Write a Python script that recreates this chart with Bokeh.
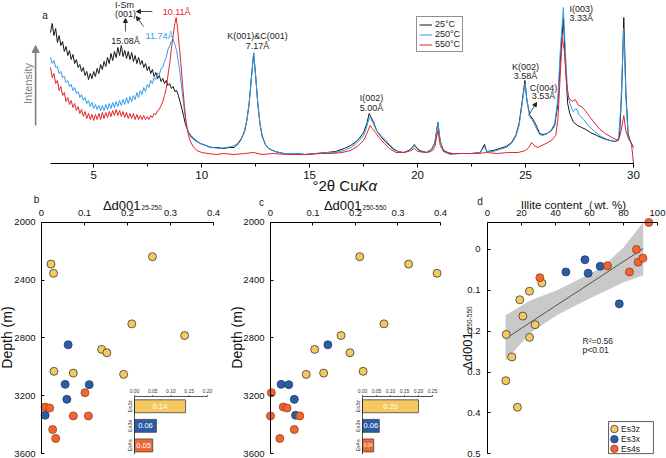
import numpy as np
from bokeh.plotting import figure
from bokeh.layouts import column, row
from bokeh.models import (Range1d, FixedTicker, Label, Arrow, NormalHead, Legend, LegendItem,
                          ColumnDataSource)
from bokeh.core.properties import value
from bokeh.embed import file_html
from bokeh.resources import INLINE

FONT = "Liberation Sans"
FONT_V = value(FONT)

# ---------------- Panel a: XRD patterns (2theta, intensity a.u.) ----------------
xrd_25 = [(3.00,131),(3.08,140),(3.16,128),(3.24,135),(3.32,121),(3.40,128),(3.48,118),(3.56,122),(3.64,112),(3.72,117),(3.80,108),(3.88,113),(3.96,104),(4.04,109),(4.12,100),(4.20,104),(4.28,96),(4.36,99),(4.44,92),(4.52,96),(4.60,88),(4.68,92),(4.76,84),(4.84,90),(4.92,85),(5.00,92),(5.08,87),(5.16,95),(5.24,90),(5.32,99),(5.40,94),(5.48,102),(5.56,97),(5.64,106),(5.72,100),(5.80,110),(5.88,103),(5.96,112),(6.04,106),(6.12,116),(6.20,108),(6.28,118),(6.36,107),(6.44,113),(6.52,105),(6.60,112),(6.68,104),(6.76,111),(6.84,102),(6.92,108),(7.00,100),(7.08,106),(7.16,99),(7.24,103),(7.32,96),(7.40,100),(7.48,93),(7.56,97),(7.64,90),(7.72,94),(7.80,87),(7.88,91),(7.96,85),(8.04,88),(8.12,82),(8.20,85),(8.28,80),(8.36,83),(8.44,78),(8.52,80),(8.60,75),(8.68,77),(8.76,72),(8.84,73),(8.92,68),(9.00,62),(9.08,55),(9.16,48),(9.24,40),(9.32,35),(9.40,31),(9.50,28),(9.63,25),(9.80,22),(9.94,20),(10.2,18),(10.4,16),(10.7,16),(11.0,15),(11.3,16),(11.5,16),(11.7,20),(11.85,25),(12.0,33),(12.1,44),(12.2,60),(12.3,85),(12.41,110),(12.5,88),(12.6,60),(12.7,40),(12.8,28),(12.95,19),(13.1,15),(13.4,12),(13.8,10),(14.3,10),(14.8,9),(15.3,10),(15.8,11),(16.2,12),(16.6,15),(16.9,18),(17.1,21),(17.3,25),(17.5,31),(17.65,40),(17.76,50),(17.85,46),(17.95,42),(18.1,33),(18.3,27),(18.5,22),(18.7,18),(18.9,14),(19.1,12),(19.35,11),(19.6,13),(19.75,16),(19.85,19),(19.95,16),(20.1,13),(20.4,11),(20.65,14),(20.8,21),(20.94,41),(21.05,22),(21.2,13),(21.5,10),(22.0,10),(22.5,10),(22.9,11),(23.1,19),(23.2,12),(23.5,13),(23.8,15),(24.1,17),(24.35,21),(24.55,28),(24.7,40),(24.82,58),(24.97,83),(25.07,62),(25.2,48),(25.35,44),(25.5,38),(25.65,30),(25.8,29),(26.0,30),(26.2,33),(26.35,38),(26.5,60),(26.6,100),(26.75,145),(26.85,100),(26.95,60),(27.05,50),(27.2,42),(27.4,38),(27.6,36),(27.8,34),(28.0,31),(28.3,28),(28.6,25),(28.9,23),(29.2,22),(29.35,26),(29.45,70),(29.55,146),(29.65,70),(29.75,30),(29.85,22),(30.0,16)]

xrd_250 = [(3.00,106),(3.08,100),(3.16,103),(3.24,96),(3.32,97),(3.40,90),(3.48,92),(3.56,86),(3.64,87),(3.72,81),(3.80,83),(3.88,77),(3.96,79),(4.04,73),(4.12,76),(4.20,70),(4.28,72),(4.36,66),(4.44,69),(4.52,63),(4.60,66),(4.68,60),(4.76,63),(4.84,57),(4.92,61),(5.00,55),(5.08,59),(5.16,54),(5.24,58),(5.32,53),(5.40,58),(5.48,53),(5.56,59),(5.64,54),(5.72,60),(5.80,55),(5.88,61),(5.96,56),(6.04,62),(6.12,57),(6.20,63),(6.28,58),(6.36,64),(6.44,59),(6.52,66),(6.60,60),(6.68,67),(6.76,62),(6.84,68),(6.92,64),(7.00,71),(7.08,66),(7.16,73),(7.24,69),(7.32,76),(7.40,72),(7.48,79),(7.56,76),(7.64,83),(7.72,80),(7.80,86),(7.88,84),(7.96,90),(8.04,89),(8.12,95),(8.20,96),(8.28,102),(8.36,106),(8.44,114),(8.52,118),(8.60,122),(8.68,124),(8.76,119),(8.84,113),(8.92,102),(9.00,90),(9.08,75),(9.16,60),(9.24,46),(9.32,36),(9.42,29),(9.55,25),(9.75,22),(9.94,20),(10.2,18),(10.5,16),(10.8,15),(11.1,16),(11.4,17),(11.6,19),(11.8,24),(11.95,30),(12.1,44),(12.2,60),(12.3,84),(12.41,111),(12.5,87),(12.6,60),(12.7,40),(12.8,27),(12.95,19),(13.1,15),(13.4,12),(13.8,10),(14.3,10),(14.8,9),(15.3,10),(15.8,11),(16.2,11),(16.6,13),(16.9,16),(17.1,19),(17.3,23),(17.5,28),(17.65,37),(17.76,46),(17.85,44),(17.95,40),(18.1,33),(18.3,28),(18.5,24),(18.7,19),(18.9,15),(19.1,12),(19.35,11),(19.6,13),(19.75,15),(19.85,18),(19.95,15),(20.1,12),(20.4,11),(20.65,14),(20.8,20),(20.94,41),(21.05,22),(21.2,12),(21.5,9),(22.0,10),(22.5,10),(22.9,11),(23.1,17),(23.2,12),(23.5,12),(23.8,14),(24.1,16),(24.35,20),(24.55,27),(24.7,38),(24.82,56),(24.97,80),(25.07,62),(25.2,47),(25.35,42),(25.5,35),(25.65,29),(25.8,28),(26.0,30),(26.2,34),(26.35,40),(26.5,65),(26.6,110),(26.75,156),(26.85,110),(26.95,70),(27.05,60),(27.2,52),(27.35,55),(27.5,48),(27.7,44),(27.9,38),(28.2,32),(28.5,27),(28.8,24),(29.1,22),(29.3,23),(29.42,60),(29.55,135),(29.65,65),(29.75,28),(29.85,23),(30.0,16)]

xrd_550 = [(3.00,96),(3.08,86),(3.16,90),(3.24,80),(3.32,83),(3.40,73),(3.48,77),(3.56,68),(3.64,71),(3.72,62),(3.80,66),(3.88,59),(3.96,63),(4.04,56),(4.12,60),(4.20,53),(4.28,57),(4.36,50),(4.44,54),(4.52,47),(4.60,52),(4.68,45),(4.76,50),(4.84,44),(4.92,49),(5.00,43),(5.08,49),(5.16,44),(5.24,50),(5.32,44),(5.40,51),(5.48,45),(5.56,51),(5.64,46),(5.72,52),(5.80,47),(5.88,53),(5.96,48),(6.04,54),(6.12,48),(6.20,53),(6.28,47),(6.36,52),(6.44,46),(6.52,51),(6.60,45),(6.68,50),(6.76,45),(6.84,50),(6.92,44),(7.00,49),(7.08,44),(7.16,48),(7.24,44),(7.32,48),(7.40,44),(7.48,47),(7.56,44),(7.64,48),(7.72,46),(7.80,50),(7.88,49),(7.96,53),(8.04,54),(8.12,58),(8.20,62),(8.28,68),(8.36,75),(8.44,88),(8.52,100),(8.60,115),(8.68,128),(8.76,140),(8.82,146),(8.88,136),(8.96,118),(9.04,100),(9.12,78),(9.20,58),(9.28,42),(9.36,31),(9.46,23),(9.6,17),(9.78,13),(10.0,11),(10.3,10),(10.7,9),(11.0,10),(11.5,9),(12.0,10),(12.4,11),(12.8,9),(13.3,10),(14.0,9),(14.8,9),(15.5,10),(16.0,10),(16.5,11),(16.9,13),(17.2,17),(17.5,23),(17.65,30),(17.8,38),(17.9,35),(18.05,31),(18.25,25),(18.46,20),(18.7,15),(19.0,11),(19.4,11),(19.7,13),(19.85,15),(20.0,12),(20.47,11),(20.7,13),(20.8,17),(20.94,33),(21.05,18),(21.2,12),(21.6,10),(22.2,10),(22.8,10),(23.2,11),(23.7,10),(24.2,11),(24.66,11),(25.0,13),(25.15,16),(25.28,21),(25.4,18),(25.55,16),(25.75,18),(25.95,20),(26.2,23),(26.4,28),(26.5,45),(26.6,85),(26.7,126),(26.8,112),(26.9,80),(27.0,66),(27.15,62),(27.3,64),(27.45,58),(27.6,57),(27.76,53),(28.0,46),(28.22,40),(28.45,34),(28.69,30),(29.0,26),(29.3,23),(29.42,32),(29.55,48),(29.65,32),(29.78,24),(29.9,21),(30.0,0)]

series_names = ["25°C", "250°C", "550°C"]
series_colors = ["#151515", "#2E9DEB", "#E5232B"]
x_ticks_a = [5, 10, 15, 20, 25, 30]
x_minor_a = [7.5, 12.5, 17.5, 22.5, 27.5]

# ---------------- Panels b, c, d data ----------------
groups = ["Es3z", "Es3x", "Es4s"]
group_fill = ["#F4C95F", "#2D5CA6", "#EE6631"]
group_line = ["#3a3a3a", "#1d3c70", "#9a3d18"]

depth_z = [2237, 2288, 2352, 2702, 2783, 2879, 2902, 3031, 3043, 3052]
depth_x = [2847, 3121, 3123, 3225, 3335]
depth_s = [3179, 3278, 3285, 3340, 3340, 3434, 3496]
depth_ticks = [2000, 2400, 2800, 3200, 3600]
dd_ticks = [0, 0.1, 0.2, 0.3, 0.4]

dd25_z = [0.258, 0.022, 0.028, 0.210, 0.333, 0.140, 0.152, 0.029, 0.074, 0.191]
dd25_x = [0.062, 0.055, 0.111, 0.059, 0.0085]
dd25_s = [0.101, 0.0085, 0.019, 0.074, 0.109, 0.026, 0.033]

dd250_z = [0.210, 0.325, 0.392, 0.267, 0.166, 0.104, 0.187, 0.218, 0.125, 0.084]
dd250_x = [0.135, 0.025, 0.043, 0.056, 0.059]
dd250_s = [0.002, 0.030, 0.039, 0.000, 0.069, 0.056, 0.022]

mean25 = [0.14, 0.06, 0.05]
mean250 = [0.20, 0.06, 0.04]
mean25_lbl = ["0.14", "0.06", "0.05"]
mean250_lbl = ["0.20", "0.06", "0.04"]
inset25_ticks = [0.00, 0.05, 0.10, 0.15, 0.20]
inset250_ticks = [0.00, 0.05, 0.10, 0.15, 0.20, 0.25]

illite_ticks = [0, 20, 40, 60, 80, 100]
dcor_ticks = [0, 0.1, 0.2, 0.3, 0.4, 0.5]
illite_z = [11.0, 14.3, 10.8, 17.6, 19.0, 20.8, 24.7, 24.7, 28.0, 32.0]
dcor_z = [0.208, 0.263, 0.321, 0.386, 0.123, 0.163, 0.102, 0.215, 0.184, 0.082]
illite_x = [46.1, 57.3, 59.2, 66.3, 77.5]
dcor_x = [0.055, 0.025, 0.058, 0.041, 0.133]
illite_s = [30.8, 70.6, 83.5, 87.6, 88.6, 91.4, 94.9]
dcor_s = [0.069, 0.040, 0.055, 0.000, 0.031, 0.021, -0.066]

fit_slope = -0.00272
fit_intercept = 0.247
fit_range = [10.6, 91.6]
band_x = [10.6, 25.3, 41.0, 54.7, 66.5, 70.4, 80.0, 82.2, 91.6]
band_top = [0.161, 0.124, 0.100, 0.071, 0.045, 0.032, -0.005, -0.017, -0.066]
band_bottom = [0.272, 0.204, 0.160, 0.131, 0.107, 0.100, 0.080, 0.077, 0.063]


def lab(p, x, y, text, size="9px", color="#222222", align="center", baseline="middle",
        angle=0, style="normal"):
    p.add_layout(Label(x=x, y=y, text=text, text_font=FONT, text_font_size=size,
                       text_color=color, text_align=align, text_baseline=baseline,
                       angle=angle, text_font_style=style))


def arrow(p, x0, y0, x1, y1, color="#222222", width=0.8, size=4):
    p.add_layout(Arrow(x_start=x0, y_start=y0, x_end=x1, y_end=y1, line_color=color,
                       line_width=width,
                       end=NormalHead(size=size, fill_color=color, line_color=color)))


def base_fig(width, height, xr, yr, xloc, yloc):
    p = figure(width=width, height=height, x_range=xr, y_range=yr,
               x_axis_location=xloc, y_axis_location=yloc, toolbar_location=None,
               output_backend="svg", min_border=0, min_border_left=0, min_border_right=0,
               min_border_top=0, min_border_bottom=0)
    p.grid.visible = False
    p.outline_line_color = None
    p.background_fill_color = "white"
    p.border_fill_color = "white"
    return p


def style_axis(a, size, standoff, tick_in, tick_out):
    a.axis_line_color = "black"
    a.axis_line_width = 1
    a.major_tick_line_color = "black"
    a.major_tick_in = tick_in
    a.major_tick_out = tick_out
    a.minor_tick_line_color = None
    a.major_label_text_font = FONT
    a.major_label_text_font_size = size
    a.major_label_text_color = "#111111"
    a.major_label_standoff = standoff


# ================= Panel a =================
# frame = whole figure; axis drawn at intensity 0 (px 163), 2theta 3 at px 50
pa = base_fig(666, 195, Range1d(0.6845, 31.528), Range1d(-32, 163), "below", None)
ax = pa.xaxis[0]
style_axis(ax, "11.5px", 3, 0, 4)
ax.axis_line_width = 1.2
ax.fixed_location = 0
ax.bounds = (3, 30)
ax.ticker = FixedTicker(ticks=x_ticks_a, minor_ticks=x_minor_a)
ax.minor_tick_line_color = "black"
ax.minor_tick_in = 0
ax.minor_tick_out = 3

renderers = []
for data, col in zip([xrd_25, xrd_250, xrd_550], series_colors):
    tt, inten = zip(*data)
    renderers.append(pa.line(list(tt), list(inten), line_color=col, line_width=1))

legend_a = Legend(items=[LegendItem(label=n, renderers=[r]) for n, r in zip(series_names, renderers)],
                  location=(416, 143), orientation="vertical", padding=2, spacing=0, margin=0,
                  glyph_width=13, glyph_height=9, label_height=9, label_standoff=3,
                  label_text_font=FONT, label_text_font_size="9px", label_text_color="#222222",
                  border_line_color="#222222", border_line_width=1, background_fill_alpha=1)
pa.add_layout(legend_a)

lab(pa, 2.745, 148.5, "a", size="10px")
lab(pa, 1.94, 80, "Intensity", size="11px", color="#808080", angle=np.pi / 2)
arrow(pa, 2.31, 38, 2.31, 118, color="#808080", width=1.6, size=7)
lab(pa, 17.264, -22, "°2θ Cu", size="15px", color="#111111", align="right")
lab(pa, 17.264, -22, "Kα", size="15px", color="#111111", align="left", style="italic")

lab(pa, 6.43, 158.5, "I-Sm")
lab(pa, 6.47, 150, "(001)")
lab(pa, 6.47, 123, "15.08Å")
lab(pa, 8.05, 128, "11.74Å", color="#2E9DEB")
lab(pa, 8.84, 152, "10.11Å", color="#E5232B")
lab(pa, 12.59, 128, "K(001)&C(001)")
lab(pa, 12.59, 118, "7.17Å")
lab(pa, 17.87, 66, "I(002)")
lab(pa, 17.87, 56, "5.00Å")
lab(pa, 25.0, 97, "K(002)")
lab(pa, 25.0, 88, "3.58Å")
lab(pa, 25.83, 76, "C(004)")
lab(pa, 25.83, 68, "3.53Å")
lab(pa, 27.04, 155, "I(003)", align="left")
lab(pa, 27.04, 146, "3.33Å", align="left")
arrow(pa, 6.47, 132, 6.47, 145)
arrow(pa, 7.72, 152, 6.98, 152)
arrow(pa, 7.31, 137, 6.98, 147)
arrow(pa, 25.14, 48, 25.51, 61)

# depth scale for lower panels: 2000 m at px 222 (27 px below row top), 3600 m at px 453
DEPTH_RANGE = (3634.63, 1812.99)


def depth_panel(width, x_lo, x_hi, xs_list, mean, mean_lbl, inset_ticks, inset_tx, letter,
                letter_xy, sub, title_x, depth_x_lbl):
    p = base_fig(width, 263, Range1d(x_lo, x_hi), Range1d(*DEPTH_RANGE), "above", "left")
    xa, ya = p.xaxis[0], p.yaxis[0]
    style_axis(xa, "9.5px", 6, 3, 0)
    style_axis(ya, "9.5px", 6, 3, 0)
    xa.fixed_location = 2000
    xa.bounds = (0, 0.4)
    ya.fixed_location = 0
    ya.bounds = (2000, 3600)
    xa.ticker = FixedTicker(ticks=dd_ticks)
    xa.major_label_overrides = {0: "0", 0.1: "0.1", 0.2: "0.2", 0.3: "0.3", 0.4: "0.4"}
    ya.ticker = FixedTicker(ticks=depth_ticks)
    for xs, ds, fc, lc in zip(xs_list, [depth_z, depth_x, depth_s], group_fill, group_line):
        p.scatter(xs, ds, marker="circle", size=8, fill_color=fc, line_color=lc, line_width=0.8)

    # inset bar chart of group means
    tmax = inset_ticks[-1]
    sub_p = p.subplot(x_source=Range1d(0, tmax), y_source=Range1d(0, 3),
                      x_target=Range1d(*inset_tx), y_target=Range1d(3205, 3612))
    cat_y = [i + 0.5 for i in range(len(groups))]
    sub_p.hbar(y=cat_y, left=0, right=mean, height=0.66, fill_color=group_fill,
               line_color="#444444", line_width=0.8)
    fs = ["7.5px", "7.5px", "7.5px" if mean[2] >= 0.05 else "4.5px"]
    src = ColumnDataSource(dict(x=[m / 2 for m in mean], y=cat_y, t=mean_lbl, fs=fs))
    sub_p.text(x="x", y="y", text="t", source=src, text_font=FONT_V, text_font_size="fs",
               text_color="white", text_align="center", text_baseline="middle")
    sub_p.segment(x0=[0, 0], y0=[0, 0], x1=[tmax, 0], y1=[0, 2.95], line_color="#222222",
                  line_width=0.8)
    sub_p.segment(x0=inset_ticks, y0=[0] * len(inset_ticks), x1=inset_ticks,
                  y1=[-0.08] * len(inset_ticks), line_color="#222222", line_width=0.6)
    sub_p.text(x=inset_ticks, y=[0] * len(inset_ticks), text=["%.2f" % t for t in inset_ticks],
               y_offset=-3, text_font=FONT_V, text_font_size="5px", text_color="#333333",
               text_align="center", text_baseline="bottom")
    sub_p.text(x=[0] * 3, y=cat_y, text=groups, x_offset=-2, angle=np.pi / 2,
               text_font=FONT_V, text_font_size="5.5px", text_color="#333333",
               text_align="center", text_baseline="bottom")

    lab(p, letter_xy[0], letter_xy[1], letter, size="10px")
    lab(p, title_x, 1882, "Δd001", size="13px", color="#111111", align="right",
        baseline="alphabetic")
    lab(p, title_x + 0.0025, 1896, sub, size="6.5px", color="#111111", align="left",
        baseline="alphabetic")
    lab(p, depth_x_lbl, 2797, "Depth (m)", size="14px", color="#111111", angle=np.pi / 2)
    return p


pb = depth_panel(228, -0.09535, 0.4349, [dd25_z, dd25_x, dd25_s], mean25, mean25_lbl,
                 inset25_ticks, (0.2163, 0.386), "b", (-0.0116, 1841), "25-250", 0.2302, -0.0791)
pc = depth_panel(222, -0.09882, 0.42353, [dd250_z, dd250_x, dd250_s], mean250, mean250_lbl,
                 inset250_ticks, (0.2165, 0.3812), "c", (-0.0212, 1861), "250-550", 0.2141,
                 -0.0788)

# ================= Panel d =================
pd_ = base_fig(216, 263, Range1d(-21.76, 105.29), Range1d(0.5114, -0.1321), "above", "left")
xa, ya = pd_.xaxis[0], pd_.yaxis[0]
style_axis(xa, "9.5px", 6, 3, 0)
style_axis(ya, "9.5px", 7, 3, 0)
xa.fixed_location = -0.0667
xa.bounds = (0, 100)
ya.fixed_location = 0
ya.bounds = (-0.0667, 0.5)
xa.ticker = FixedTicker(ticks=illite_ticks)
ya.ticker = FixedTicker(ticks=dcor_ticks)
ya.major_label_overrides = {0: "0", 0.1: "0.1", 0.2: "0.2", 0.3: "0.3", 0.4: "0.4", 0.5: "0.5"}

pd_.varea(x=band_x, y1=band_top, y2=band_bottom, fill_color="#c9c9c9", fill_alpha=1)
fx = np.array(fit_range)
pd_.line(fx, fit_intercept + fit_slope * fx, line_color="#333333", line_width=0.8)
for xs, ys, fc, lc in zip([illite_z, illite_x, illite_s], [dcor_z, dcor_x, dcor_s],
                          group_fill, group_line):
    pd_.scatter(xs, ys, marker="circle", size=8, fill_color=fc, line_color=lc, line_width=0.8)

lab(pd_, 55.9, 0.2244, "R²=0.56", size="8.5px", align="left")
lab(pd_, 55.9, 0.2463, "p<0.01", size="8.5px", align="left")
lab(pd_, -4.41, -0.117, "d", size="10px")
lab(pd_, 50.6, -0.1098, "Illite content（wt. %)", size="11.5px", color="#111111",
    baseline="alphabetic")
lab(pd_, -11.8, 0.2024, "Δd001", size="13px", color="#111111", align="right",
    baseline="alphabetic", angle=np.pi / 2)
lab(pd_, -10.3, 0.1976, "250-550", size="6.5px", color="#111111", align="left",
    baseline="alphabetic", angle=np.pi / 2)

# legend for panel d (drawn in its own sub-coordinate box)
leg = pd_.subplot(x_source=Range1d(0, 1), y_source=Range1d(0, 3),
                  x_target=Range1d(71.2, 97.6), y_target=Range1d(0.421, 0.4995))
leg.quad(left=[0], right=[1], top=[0], bottom=[3], fill_color="white", line_color="#333333",
         line_width=0.8)
leg_y = [0.7, 1.65, 2.55]
leg.scatter(x=[0.13] * 3, y=leg_y, marker="circle", size=7.5, fill_color=group_fill,
            line_color=group_line, line_width=0.8)
leg.text(x=[0.28] * 3, y=leg_y, text=groups, text_font=FONT_V, text_font_size="8.5px",
         text_color="#222222", text_align="left", text_baseline="middle")

layout = column(pa, row(pb, pc, pd_))
open("out.html", "w").write(file_html(layout, INLINE))
